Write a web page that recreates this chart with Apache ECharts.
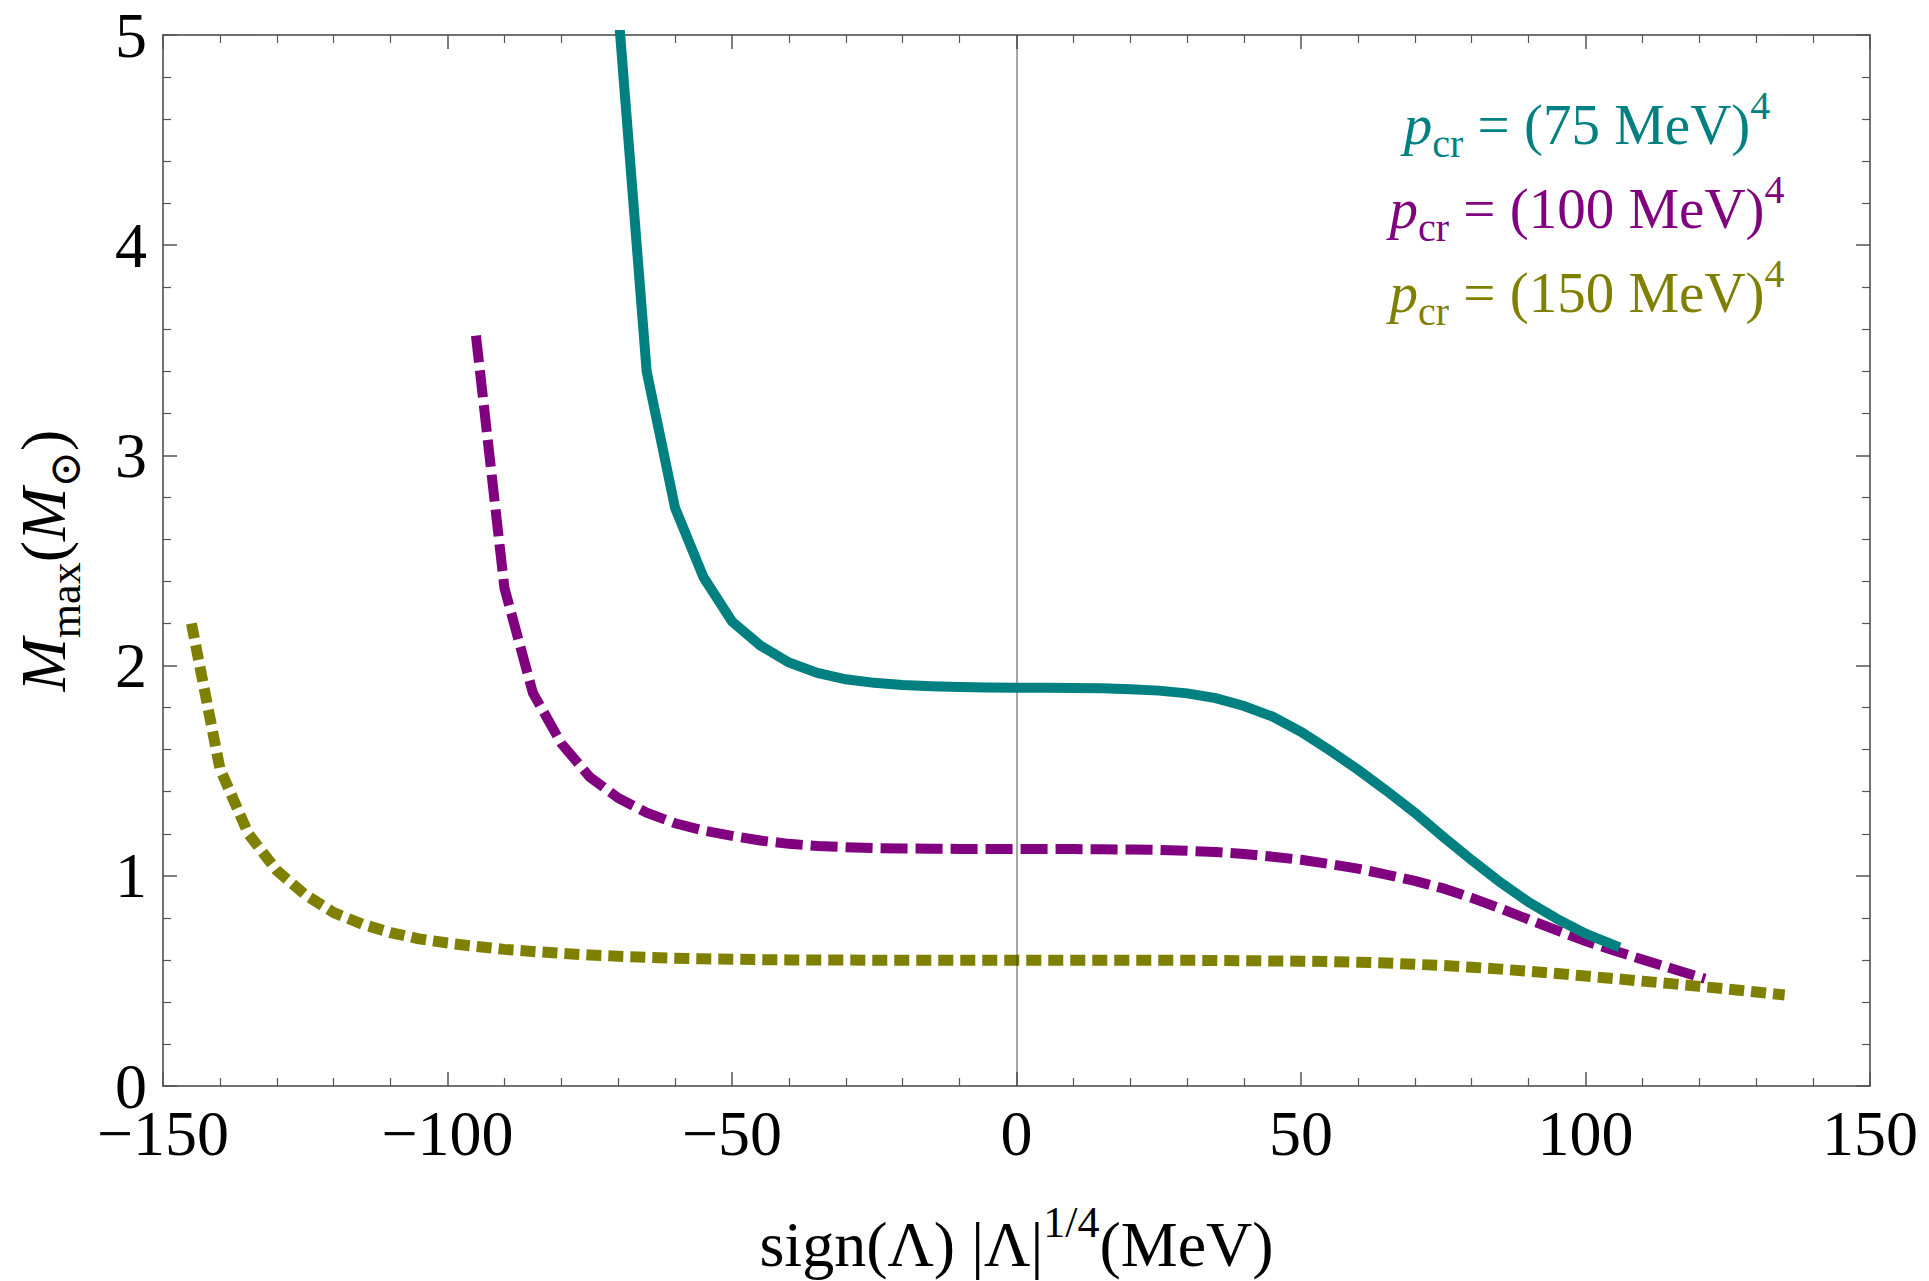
<!DOCTYPE html>
<html>
<head>
<meta charset="utf-8">
<script src="https://cdn.jsdelivr.net/npm/echarts@6/dist/echarts.min.js"></script>
<style>
html,body{margin:0;padding:0;background:#fff;}
#chart{width:1929px;height:1281px;}
</style>
</head>
<body>
<div id="chart"></div>
<script>
// ---- data ----
const xTickLabels = ['\u2212150', '\u2212100', '\u221250', '0', '50', '100', '150'];
const yTickLabels = ['0', '1', '2', '3', '4', '5'];

const tealX = [-70,-65,-60,-55,-50,-45,-40,-35,-30,-25,-20,-15,-10,-5,0,5,10,15,20,25,30,35,40,45,50,55,60,65,70,75,80,85,90,95,100,106];
const tealY = [5.12,3.40,2.75,2.42,2.21,2.095,2.015,1.965,1.935,1.918,1.908,1.902,1.898,1.896,1.895,1.895,1.894,1.892,1.888,1.881,1.868,1.845,1.808,1.757,1.685,1.598,1.505,1.405,1.30,1.185,1.075,0.97,0.875,0.795,0.725,0.66];

const purpleX = [-95,-90,-85,-80,-75,-70,-65,-60,-55,-50,-45,-40,-35,-30,-25,-20,-15,-10,-5,0,5,10,15,20,25,30,35,40,45,50,55,60,65,70,75,80,85,90,95,100,105,110,115,121];
const purpleY = [3.57,2.37,1.87,1.63,1.47,1.37,1.30,1.25,1.215,1.19,1.168,1.152,1.142,1.136,1.132,1.13,1.129,1.128,1.127,1.127,1.127,1.127,1.126,1.125,1.123,1.119,1.113,1.104,1.091,1.076,1.056,1.034,1.006,0.976,0.94,0.895,0.845,0.792,0.74,0.69,0.645,0.602,0.56,0.51];

const oliveX = [-145,-140,-135,-130,-125,-120,-115,-110,-105,-100,-95,-90,-85,-80,-75,-70,-65,-60,-55,-50,-45,-40,-35,-30,-25,-20,-15,-10,-5,0,5,10,15,20,25,30,35,40,45,50,55,60,65,70,75,80,85,90,95,100,105,110,115,120,125,130,135];
const oliveY = [2.2,1.51,1.20,1.025,0.91,0.825,0.77,0.73,0.70,0.68,0.664,0.65,0.64,0.631,0.623,0.617,0.612,0.608,0.605,0.603,0.601,0.60,0.599,0.599,0.598,0.598,0.598,0.598,0.598,0.598,0.598,0.598,0.598,0.598,0.598,0.598,0.597,0.596,0.595,0.594,0.592,0.589,0.585,0.579,0.573,0.565,0.556,0.546,0.535,0.523,0.511,0.499,0.487,0.474,0.461,0.447,0.433];

const seriesNames = ['p_cr = (75 MeV)^4', 'p_cr = (100 MeV)^4', 'p_cr = (150 MeV)^4'];
const legendValues = ['75', '100', '150'];
const colors = ['#008080', '#800080', '#808000'];

const zip = (xs, ys) => xs.map((x, i) => [x, ys[i]]);

const FONT = '"Liberation Serif", "Times New Roman", "DejaVu Serif", serif';
const AX = '#444';

function xAxisDef(pos, showLabels) {
  return {
    type: 'value', position: pos, min: -150, max: 150, interval: 50,
    axisLine: { show: true, onZero: false, lineStyle: { color: AX, width: 1.5 } },
    axisTick: { show: true, inside: true, length: 14, lineStyle: { color: '#555', width: 1.5 } },
    minorTick: { show: true, splitNumber: 5, length: 8, lineStyle: { color: '#555', width: 1.2 } },
    splitLine: { show: false },
    axisLabel: {
      show: showLabels, margin: 24, fontSize: 64, lineHeight: 46, fontFamily: FONT, color: '#000',
      formatter: v => xTickLabels[Math.round((v + 150) / 50)]
    }
  };
}
function yAxisDef(pos, showLabels) {
  return {
    type: 'value', position: pos, min: 0, max: 5, interval: 1,
    axisLine: { show: true, onZero: false, lineStyle: { color: AX, width: 1.5 } },
    axisTick: { show: true, inside: true, length: 14, lineStyle: { color: '#555', width: 1.5 } },
    minorTick: { show: true, splitNumber: 5, length: 8, lineStyle: { color: '#555', width: 1.2 } },
    splitLine: { show: false },
    axisLabel: {
      show: showLabels, margin: 16, fontSize: 64, lineHeight: 46, fontFamily: FONT, color: '#000',
      formatter: v => yTickLabels[Math.round(v)]
    }
  };
}

const bottomX = xAxisDef('bottom', true);
bottomX.name = '{n|sign(\u039B) |\u039B|}{sup|1/4}{n|(MeV)}';
bottomX.nameLocation = 'middle';
bottomX.nameGap = 114;
bottomX.nameTextStyle = {
  fontFamily: FONT, fontSize: 64, color: '#000',
  rich: {
    n: { fontFamily: FONT, fontSize: 64, lineHeight: 88, color: '#000' },
    sup: { fontFamily: FONT, fontSize: 44, lineHeight: 44, verticalAlign: 'top', color: '#000' }
  }
};

const leftY = yAxisDef('left', true);
leftY.name = '{i|M}{sub|max}{n|(}{i|M}{sub|\u2299}{n|)}';
leftY.nameLocation = 'middle';
leftY.nameRotate = 90;
leftY.nameGap = 76;
leftY.nameTextStyle = {
  fontFamily: FONT, fontSize: 64, color: '#000',
  rich: {
    i: { fontFamily: FONT, fontSize: 64, fontStyle: 'italic', lineHeight: 88, color: '#000' },
    n: { fontFamily: FONT, fontSize: 64, lineHeight: 88, color: '#000' },
    sub: { fontFamily: FONT, fontSize: 44, lineHeight: 44, verticalAlign: 'bottom', color: '#000' }
  }
};

const topX = xAxisDef('top', false);
const rightY = yAxisDef('right', false);

const styles = [
  { width: 10, type: 'solid' },
  { width: 10, type: [27, 8] },
  { width: 11, type: [15, 7] }
];
const datasets = [zip(tealX, tealY), zip(purpleX, purpleY), zip(oliveX, oliveY)];

const series = datasets.map((d, i) => ({
  name: seriesNames[i],
  type: 'line',
  data: d,
  showSymbol: false,
  symbol: 'none',
  clip: true,
  z: 3 - i + 2,
  lineStyle: { color: colors[i], width: styles[i].width, type: styles[i].type, cap: 'butt', join: 'miter' },
  itemStyle: { color: colors[i] },
  silent: true,
  animation: false
}));
series[0].markLine = {
  silent: true, symbol: 'none', animation: false,
  label: { show: false },
  lineStyle: { color: 'rgba(60,60,60,0.6)', width: 1.5, type: 'solid' },
  data: [{ xAxis: 0 }]
};

const legendTexts = legendValues.map((v, i) => ({
  type: 'text',
  x: 1587,
  y: 124 + i * 84,
  z: 100,
  style: {
    text: '{p|p}{sub|cr}{n| = (' + v + ' MeV)}{sup|4}',
    align: 'center',
    verticalAlign: 'middle',
    fill: colors[i],
    rich: {
      p: { fontFamily: FONT, fontSize: 57, fontStyle: 'italic', lineHeight: 78, fill: colors[i] },
      n: { fontFamily: FONT, fontSize: 57, lineHeight: 78, fill: colors[i] },
      sub: { fontFamily: FONT, fontSize: 40, lineHeight: 40, verticalAlign: 'bottom', fill: colors[i] },
      sup: { fontFamily: FONT, fontSize: 40, lineHeight: 40, verticalAlign: 'top', fill: colors[i] }
    }
  }
}));

const chart = echarts.init(document.getElementById('chart'), null, { renderer: 'svg' });
chart.setOption({
  animation: false,
  backgroundColor: '#fff',
  grid: { left: 163, right: 59, top: 35, bottom: 193, containLabel: false },
  xAxis: [bottomX, topX],
  yAxis: [leftY, rightY],
  series: series,
  graphic: legendTexts
});
</script>
</body>
</html>
